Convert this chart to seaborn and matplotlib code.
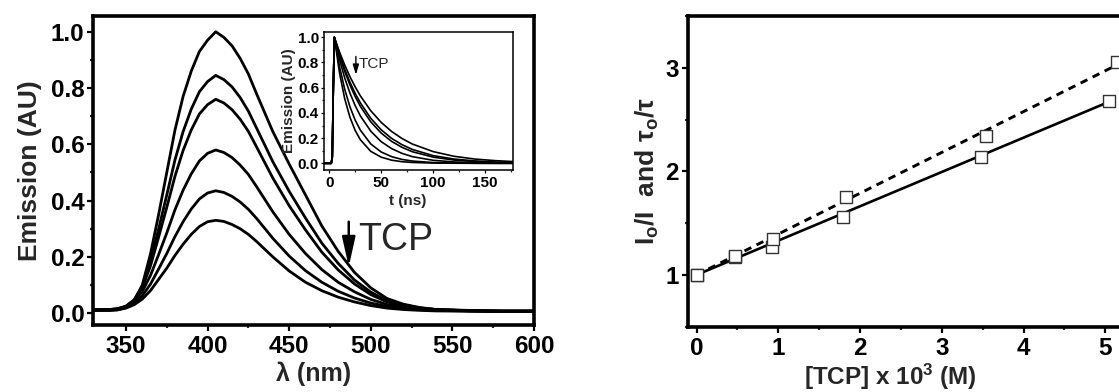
import numpy as np
import pandas as pd
import matplotlib
matplotlib.use("Agg")
import matplotlib.pyplot as plt
import seaborn as sns
from matplotlib.ticker import MultipleLocator

# ---------------- data: emission spectra (main left panel) ----------------
wavelength = [330, 340, 345, 350, 355, 360, 365, 370, 375, 380, 385, 390, 395, 400,
              405, 410, 415, 420, 425, 430, 440, 450, 460, 470, 480, 490, 500, 510,
              520, 530, 540, 560, 580, 600]
spec_0 = [0.010, 0.010, 0.012, 0.020, 0.045, 0.100, 0.210, 0.350, 0.500, 0.650, 0.770,
          0.860, 0.930, 0.970, 1.000, 0.980, 0.950, 0.905, 0.850, 0.780, 0.645, 0.530,
          0.420, 0.310, 0.220, 0.145, 0.090, 0.052, 0.032, 0.020, 0.013, 0.008, 0.006, 0.006]
spec_1 = [0.012, 0.012, 0.015, 0.024, 0.047, 0.095, 0.184, 0.299, 0.420, 0.544, 0.645,
          0.725, 0.787, 0.823, 0.845, 0.830, 0.804, 0.766, 0.718, 0.658, 0.538, 0.433,
          0.338, 0.249, 0.177, 0.118, 0.075, 0.044, 0.029, 0.019, 0.013, 0.009, 0.007, 0.007]
spec_2 = [0.013, 0.013, 0.016, 0.025, 0.047, 0.090, 0.168, 0.270, 0.376, 0.486, 0.578,
          0.651, 0.708, 0.741, 0.760, 0.747, 0.723, 0.689, 0.646, 0.591, 0.480, 0.382,
          0.296, 0.217, 0.154, 0.104, 0.066, 0.040, 0.026, 0.018, 0.013, 0.010, 0.008, 0.008]
spec_3 = [0.013, 0.013, 0.016, 0.024, 0.043, 0.077, 0.134, 0.208, 0.285, 0.367, 0.437,
          0.495, 0.541, 0.568, 0.580, 0.571, 0.553, 0.526, 0.493, 0.450, 0.360, 0.280,
          0.212, 0.155, 0.110, 0.076, 0.049, 0.031, 0.021, 0.015, 0.012, 0.009, 0.008, 0.008]
spec_4 = [0.012, 0.012, 0.014, 0.021, 0.036, 0.062, 0.103, 0.157, 0.212, 0.272, 0.325,
          0.370, 0.406, 0.427, 0.435, 0.429, 0.415, 0.395, 0.369, 0.337, 0.266, 0.203,
          0.151, 0.110, 0.078, 0.054, 0.036, 0.024, 0.017, 0.013, 0.010, 0.008, 0.007, 0.007]
spec_5 = [0.010, 0.010, 0.012, 0.018, 0.030, 0.050, 0.080, 0.120, 0.160, 0.205, 0.245,
          0.280, 0.308, 0.325, 0.330, 0.326, 0.315, 0.300, 0.280, 0.255, 0.200, 0.150,
          0.110, 0.080, 0.057, 0.040, 0.027, 0.018, 0.013, 0.010, 0.008, 0.007, 0.006, 0.006]
spectra = [spec_0, spec_1, spec_2, spec_3, spec_4, spec_5]

# ---------------- data: decay traces (inset) ----------------
time_ns = [-5, 0, 2, 3, 4, 5, 10, 15, 20, 25, 30, 40, 50, 60, 70, 80, 100, 120, 140, 160, 177]
decay_0 = [0, 0, 0, 0.05, 0.6, 1.0, 0.882, 0.779, 0.687, 0.607, 0.535, 0.417, 0.325, 0.253,
           0.197, 0.153, 0.093, 0.056, 0.034, 0.021, 0.014]
decay_1 = [0, 0, 0, 0.05, 0.6, 1.0, 0.863, 0.745, 0.643, 0.555, 0.480, 0.357, 0.266, 0.198,
           0.148, 0.110, 0.061, 0.034, 0.019, 0.010, 0.006]
decay_2 = [0, 0, 0, 0.05, 0.6, 1.0, 0.853, 0.728, 0.621, 0.530, 0.452, 0.329, 0.240, 0.174,
           0.127, 0.092, 0.049, 0.026, 0.014, 0.007, 0.004]
decay_3 = [0, 0, 0, 0.05, 0.6, 1.0, 0.823, 0.676, 0.557, 0.458, 0.376, 0.255, 0.172, 0.117,
           0.079, 0.053, 0.024, 0.011, 0.005, 0.002, 0.001]
decay_4 = [0, 0, 0, 0.05, 0.6, 1.0, 0.766, 0.586, 0.448, 0.343, 0.263, 0.154, 0.090, 0.053,
           0.031, 0.018, 0.006, 0.002, 0.001, 0.0, 0.0]
decay_5 = [0, 0, 0, 0.05, 0.6, 1.0, 0.715, 0.511, 0.365, 0.261, 0.187, 0.095, 0.049, 0.025,
           0.013, 0.007, 0.002, 0.001, 0.0, 0.0, 0.0]
decays = [decay_0, decay_1, decay_2, decay_3, decay_4, decay_5]

# ---------------- data: Stern-Volmer plot (right panel) ----------------
tcp_tau = [0.0, 0.47, 0.92, 1.79, 3.48, 5.04]
tau_ratio = [1.00, 1.17, 1.27, 1.56, 2.14, 2.68]
tcp_int = [0.0, 0.47, 0.93, 1.83, 3.54, 5.14]
int_ratio = [1.00, 1.18, 1.345, 1.75, 2.34, 3.06]
fit_tau_x = [0.0, 5.04]
fit_tau_y = [1.00, 2.67]
fit_int_x = [0.0, 5.30]
fit_int_y = [1.00, 3.09]

# ---------------- style ----------------
sns.set_style("ticks")
plt.rcParams["font.family"] = ["Liberation Sans", "DejaVu Sans"]
plt.rcParams["font.weight"] = "bold"
plt.rcParams["mathtext.fontset"] = "custom"
plt.rcParams["mathtext.rm"] = "Liberation Sans:bold"
plt.rcParams["mathtext.bf"] = "Liberation Sans:bold"
plt.rcParams["mathtext.it"] = "Liberation Sans:bold"
plt.rcParams["mathtext.default"] = "bf"

TICK_FS = 17.5
LABEL_FS = 18

fig = plt.figure(figsize=(11.19, 3.92), dpi=100)


def style_axis(ax, spine_w, maj_len, min_len, tick_w, fs, xpad=2, ypad=2):
    for s in ax.spines.values():
        s.set_linewidth(spine_w)
        s.set_color("black")
        s.set_visible(True)
    ax.tick_params(which="major", direction="out", length=maj_len, width=tick_w,
                   labelsize=fs, colors="black")
    ax.tick_params(axis="x", which="major", pad=xpad)
    ax.tick_params(axis="y", which="major", pad=ypad)
    ax.tick_params(which="minor", direction="out", length=min_len, width=tick_w)
    for lab in ax.get_xticklabels() + ax.get_yticklabels():
        lab.set_fontweight("bold")


# ---- left main panel ----
ax1 = fig.add_axes([0.0834, 0.1709, 0.3938, 0.789])
spec_df = pd.DataFrame({
    "wl": np.tile(wavelength, len(spectra)),
    "em": np.concatenate(spectra),
    "curve": np.repeat(np.arange(len(spectra)), len(wavelength)),
})
sns.lineplot(data=spec_df, x="wl", y="em", units="curve", estimator=None,
             color="black", lw=2.0, ax=ax1, legend=False)
ax1.set_xlim(330, 600)
ax1.set_ylim(-0.042, 1.057)
ax1.xaxis.set_major_locator(MultipleLocator(50))
ax1.xaxis.set_minor_locator(MultipleLocator(25))
ax1.yaxis.set_minor_locator(MultipleLocator(0.1))
ax1.set_yticks([0.0, 0.2, 0.4, 0.6, 0.8, 1.0])
ax1.set_yticklabels(["0.0", "0.2", "0.4", "0.6", "0.8", "1.0"])
style_axis(ax1, 2.6, 4.5, 2.5, 1.6, TICK_FS, xpad=3, ypad=2)
ax1.set_xlabel("λ (nm)", fontsize=LABEL_FS, fontweight="bold")
ax1.xaxis.set_label_coords(0.5, -0.118)
ax1.set_ylabel("Emission (AU)", fontsize=LABEL_FS + 1, fontweight="bold", labelpad=6)
ax1.annotate("", xy=(486.5, 0.155), xytext=(486.5, 0.335),
             arrowprops=dict(arrowstyle="-|>,head_length=0.9,head_width=0.2",
                             lw=1.8, color="black", mutation_scale=20))
ax1.text(492, 0.225, "TCP", fontsize=27, fontweight="normal", va="baseline", ha="left")

# ---- inset ----
axi = fig.add_axes([0.2895, 0.5663, 0.1692, 0.3528])
dec_df = pd.DataFrame({
    "t": np.tile(time_ns, len(decays)),
    "em": np.concatenate(decays),
    "curve": np.repeat(np.arange(len(decays)), len(time_ns)),
})
sns.lineplot(data=dec_df, x="t", y="em", units="curve", estimator=None,
             color="black", lw=1.2, ax=axi, legend=False)
axi.set_xlim(-5, 177)
axi.set_ylim(-0.053, 1.044)
axi.set_xticks([0, 50, 100, 150])
axi.set_yticks([0.0, 0.2, 0.4, 0.6, 0.8, 1.0])
axi.set_yticklabels(["0.0", "0.2", "0.4", "0.6", "0.8", "1.0"])
axi.xaxis.set_minor_locator(MultipleLocator(25))
axi.yaxis.set_minor_locator(MultipleLocator(0.1))
style_axis(axi, 1.1, 2.5, 1.5, 0.9, 11, xpad=1.5, ypad=1)
axi.set_xlabel("t (ns)", fontsize=11, fontweight="bold")
axi.xaxis.set_label_coords(0.44, -0.17)
axi.set_ylabel("Emission (AU)", fontsize=11, fontweight="bold", labelpad=1)
axi.annotate("", xy=(25.7, 0.68), xytext=(25.7, 0.87),
             arrowprops=dict(arrowstyle="-|>,head_length=0.6,head_width=0.18",
                             lw=1.0, color="black", mutation_scale=10))
axi.text(28.5, 0.79, "TCP", fontsize=11, fontweight="normal", va="center", ha="left")

# ---- right panel ----
ax2 = fig.add_axes([0.6144, 0.1666, 0.399, 0.7926])
sns.lineplot(x=fit_tau_x, y=fit_tau_y, color="black", lw=1.9, ax=ax2)
sns.lineplot(x=fit_int_x, y=fit_int_y, color="black", lw=2.1, ax=ax2,
             linestyle=(0, (2.6, 2.0)))
sns.scatterplot(x=tcp_tau, y=tau_ratio, marker="s", s=75, facecolor="white",
                edgecolor="#333333", linewidth=1.0, ax=ax2, zorder=5)
sns.scatterplot(x=tcp_int, y=int_ratio, marker="s", s=75, facecolor="white",
                edgecolor="#333333", linewidth=1.0, ax=ax2, zorder=5)
ax2.set_xlim(-0.11, 5.35)
ax2.set_ylim(0.5, 3.5)
ax2.set_xticks([0, 1, 2, 3, 4, 5])
ax2.set_yticks([1, 2, 3])
ax2.xaxis.set_minor_locator(MultipleLocator(0.5))
ax2.yaxis.set_minor_locator(MultipleLocator(0.5))
style_axis(ax2, 2.6, 4.5, 2.5, 1.6, TICK_FS, xpad=3, ypad=2)
ax2.set_xlabel(r"[TCP] x 10$^{3}$ (M)", fontsize=17.5, fontweight="bold")
ax2.xaxis.set_label_coords(0.4535, -0.112)
ax2.set_ylabel(r"I$_{o}$/I  and τ$_{o}$/τ", fontsize=LABEL_FS + 1, fontweight="bold",
               labelpad=3)

fig.savefig("out.png", dpi=100)
